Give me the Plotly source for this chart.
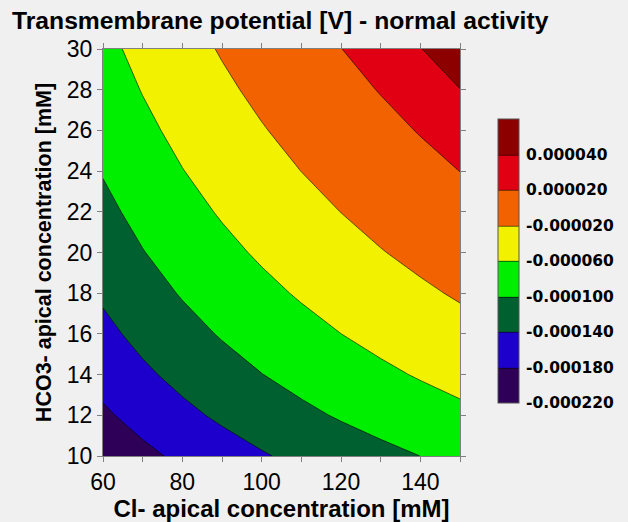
import plotly.graph_objects as go

# ---- data ----
cl_apical = [60, 70, 80, 90, 100, 110, 120, 130, 140, 150]          # x, mM
hco3_apical = [10, 12, 14, 16, 18, 20, 22, 24, 26, 28, 30]          # y, mM
# transmembrane potential [V], rows = HCO3- (y), cols = Cl- (x)
potential = [
    [-20.92e-5, -18.93e-5, -17.21e-5, -15.69e-5, -14.33e-5, -13.10e-5, -11.98e-5, -10.95e-5, -9.99e-5, -9.10e-5],
    [-18.61e-5, -16.62e-5, -14.89e-5, -13.38e-5, -12.02e-5, -10.79e-5, -9.66e-5, -8.63e-5, -7.68e-5, -6.79e-5],
    [-16.65e-5, -14.66e-5, -12.94e-5, -11.42e-5, -10.06e-5, -8.83e-5, -7.70e-5, -6.67e-5, -5.72e-5, -4.83e-5],
    [-14.95e-5, -12.96e-5, -11.24e-5, -9.72e-5, -8.36e-5, -7.13e-5, -6.01e-5, -4.98e-5, -4.02e-5, -3.13e-5],
    [-13.46e-5, -11.47e-5, -9.74e-5, -8.23e-5, -6.87e-5, -5.64e-5, -4.51e-5, -3.48e-5, -2.53e-5, -1.64e-5],
    [-12.12e-5, -10.13e-5, -8.41e-5, -6.89e-5, -5.53e-5, -4.30e-5, -3.18e-5, -2.14e-5, -1.19e-5, -0.30e-5],
    [-10.91e-5, -8.92e-5, -7.20e-5, -5.68e-5, -4.32e-5, -3.09e-5, -1.97e-5, -0.93e-5, 0.02e-5, 0.91e-5],
    [-9.80e-5, -7.81e-5, -6.09e-5, -4.57e-5, -3.21e-5, -1.98e-5, -0.86e-5, 0.17e-5, 1.13e-5, 2.02e-5],
    [-8.79e-5, -6.80e-5, -5.07e-5, -3.56e-5, -2.20e-5, -0.97e-5, 0.16e-5, 1.19e-5, 2.15e-5, 3.04e-5],
    [-7.84e-5, -5.86e-5, -4.13e-5, -2.61e-5, -1.25e-5, -0.03e-5, 1.10e-5, 2.13e-5, 3.09e-5, 3.98e-5],
    [-6.97e-5, -4.98e-5, -3.26e-5, -1.74e-5, -0.38e-5, 0.85e-5, 1.97e-5, 3.01e-5, 3.96e-5, 4.85e-5],
]
top_level = 4e-5  # boundary of the darkest red region

band_colors = ["#2e0057", "#1e00cd", "#00602f", "#00ee00",
               "#f2f200", "#f26200", "#e10013", "#8c0000"]
cbar_tickvals = [-22e-5, -18e-5, -14e-5, -10e-5, -6e-5, -2e-5, 2e-5, 6e-5]
cbar_ticktext = ["-0.000220", "-0.000180", "-0.000140", "-0.000100",
                 "-0.000060", "-0.000020", "0.000020", "0.000040"]
x_tickvals = [60, 70, 80, 90, 100, 110, 120, 130, 140, 150]
x_ticktext = ["60", "", "80", "", "100", "", "120", "", "140", ""]
y_tickvals = [10, 12, 14, 16, 18, 20, 22, 24, 26, 28, 30]

W, H = 628, 522
ML, MR, MT, MB = 103, 168, 49, 66
plot_w = W - ML - MR
plot_h = H - MT - MB

colorscale = [[i / (len(band_colors) - 1), c] for i, c in enumerate(band_colors)]

fig = go.Figure()
fig.add_trace(go.Contour(
    x=cl_apical, y=hco3_apical, z=potential,
    autocontour=False,
    contours=dict(start=-18e-5, end=6e-5, size=4e-5, coloring="fill", showlines=True),
    line=dict(color="black", width=0.6, smoothing=0),
    colorscale=colorscale, zmin=-22e-5, zmax=10e-5,
    colorbar=dict(
        tickvals=cbar_tickvals, ticktext=cbar_ticktext,
        ticks="outside", ticklen=4, tickcolor="rgba(0,0,0,0)",
        thickness=21, thicknessmode="pixels",
        len=284, lenmode="pixels", xpad=0, ypad=0,
        x=(498 - ML) / plot_w, xanchor="left",
        y=(MT + plot_h - 261) / plot_h, yanchor="middle",
        outlinecolor="#555555", outlinewidth=1,
        tickfont=dict(family="DejaVu Sans", size=15.5, color="black", weight="bold"),
    ),
    hoverinfo="skip",
))
# darkest red region: the shaded (excluded) part of "< top_level" is z > top_level
fig.add_trace(go.Contour(
    x=cl_apical, y=hco3_apical, z=potential,
    contours=dict(type="constraint", operation="<", value=top_level),
    fillcolor=band_colors[-1],
    line=dict(color="black", width=0.6, smoothing=0),
    showscale=False, hoverinfo="skip",
))

axis_common = dict(
    showline=True, linecolor="#808080", linewidth=1, mirror="ticks",
    ticks="outside", ticklen=5, tickcolor="#808080", tickwidth=1,
    showgrid=False, zeroline=False, automargin=False,
    tickfont=dict(family="Liberation Sans, Arial", size=23, color="black"),
)
fig.update_xaxes(
    range=[60, 150], tickmode="array", tickvals=x_tickvals, ticktext=x_ticktext,
    title=dict(text="Cl- apical concentration [mM]", standoff=16,
               font=dict(family="Liberation Sans, Arial", size=24, color="black", weight="bold")),
    **axis_common,
)
fig.update_yaxes(
    range=[10, 30], tickmode="array", tickvals=y_tickvals,
    title=dict(text="HCO3- apical concentration [mM]", standoff=9,
               font=dict(family="Liberation Sans, Arial", size=21.5, color="black", weight="bold")),
    **axis_common,
)
fig.update_layout(
    width=W, height=H, autosize=False,
    margin=dict(l=ML, r=MR, t=MT, b=MB, pad=0, autoexpand=False),
    paper_bgcolor="#f0f0f0", plot_bgcolor="#f0f0f0",
    title=dict(text="Transmembrane potential [V] - normal activity",
               x=12 / W, xanchor="left", xref="container",
               y=1 - 20 / H, yanchor="middle", yref="container",
               font=dict(family="Liberation Sans, Arial", size=24.7, color="black", weight="bold")),
    showlegend=False,
)
fig.write_html(
    "out.html",
    config={"displayModeBar": False},
    post_script="document.body.style.margin='0';document.body.style.background='#f0f0f0';",
)
